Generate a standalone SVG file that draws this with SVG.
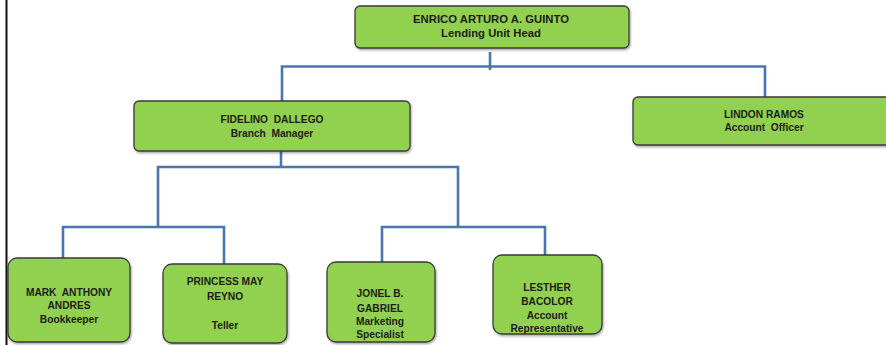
<svg xmlns="http://www.w3.org/2000/svg" width="886" height="345" viewBox="0 0 886 345">
  <defs>
    <filter id="shadow" x="-10%" y="-10%" width="120%" height="130%">
      <feDropShadow dx="1" dy="1.5" stdDeviation="1" flood-color="#000" flood-opacity="0.35"/>
    </filter>
  </defs>
  <style>
    .box { fill: #92D050; stroke: #3a3a3a; stroke-width: 1.3; filter: url(#shadow); }
    .wire { fill: none; stroke: #4A76AE; stroke-width: 2.6; stroke-linejoin: miter; stroke-linecap: butt; }
    text { font-family: "Liberation Sans", Arial, sans-serif; font-weight: bold; fill: #1c1c1c; text-anchor: middle; }
    .t1 { font-size: 11.3px; }
    .t2 { font-size: 10.2px; }
  </style>
  <rect width="886" height="345" fill="#ffffff"/>
  <!-- page edge rule -->
  <line x1="6.5" y1="0" x2="6.5" y2="345" stroke="#111" stroke-width="2"/>

  <g id="connectors">
    <path class="wire" d="M490 52 V70"/>
    <path class="wire" d="M282 101 V66.5 H765 V97"/>
    <path class="wire" d="M281 151 V166.5"/>
    <path class="wire" d="M158 227 V167 H458 V227"/>
    <path class="wire" d="M63 258 V227 H224 V264"/>
    <path class="wire" d="M382 262 V227 H545 V256"/>
  </g>

  <g id="node-guinto">
    <rect class="box" x="355" y="6" width="274" height="42" rx="5"/>
    <text class="t1" x="491" y="23">ENRICO ARTURO A. GUINTO</text>
    <text class="t1" x="491" y="37">Lending Unit Head</text>
  </g>

  <g id="node-dallego">
    <rect class="box" x="134" y="101" width="276" height="50" rx="5"/>
    <text class="t2" x="272" y="123" xml:space="preserve">FIDELINO  DALLEGO</text>
    <text class="t2" x="272" y="137" xml:space="preserve">Branch  Manager</text>
  </g>

  <g id="node-ramos">
    <rect class="box" x="633" y="97" width="260" height="48" rx="5"/>
    <text class="t2" x="764" y="118">LINDON RAMOS</text>
    <text class="t2" x="764" y="131" xml:space="preserve">Account  Officer</text>
  </g>

  <g id="node-andres">
    <rect class="box" x="8" y="258" width="122" height="84" rx="9"/>
    <text class="t2" x="69" y="296" xml:space="preserve">MARK  ANTHONY</text>
    <text class="t2" x="69" y="309">ANDRES</text>
    <text class="t2" x="69" y="323">Bookkeeper</text>
  </g>

  <g id="node-reyno">
    <rect class="box" x="163" y="264" width="124" height="79" rx="9"/>
    <text class="t2" x="225" y="285">PRINCESS MAY</text>
    <text class="t2" x="225" y="300">REYNO</text>
    <text class="t2" x="225" y="329">Teller</text>
  </g>

  <g id="node-gabriel">
    <rect class="box" x="327" y="262" width="108" height="80" rx="9"/>
    <text class="t2" x="380" y="297">JONEL B.</text>
    <text class="t2" x="380" y="312">GABRIEL</text>
    <text class="t2" x="380" y="325">Marketing</text>
    <text class="t2" x="380" y="338">Specialist</text>
  </g>

  <g id="node-bacolor">
    <rect class="box" x="493" y="255" width="109" height="79" rx="9"/>
    <text class="t2" x="547" y="291">LESTHER</text>
    <text class="t2" x="547" y="305">BACOLOR</text>
    <text class="t2" x="547" y="319">Account</text>
    <text class="t2" x="547" y="332">Representative</text>
  </g>
</svg>
